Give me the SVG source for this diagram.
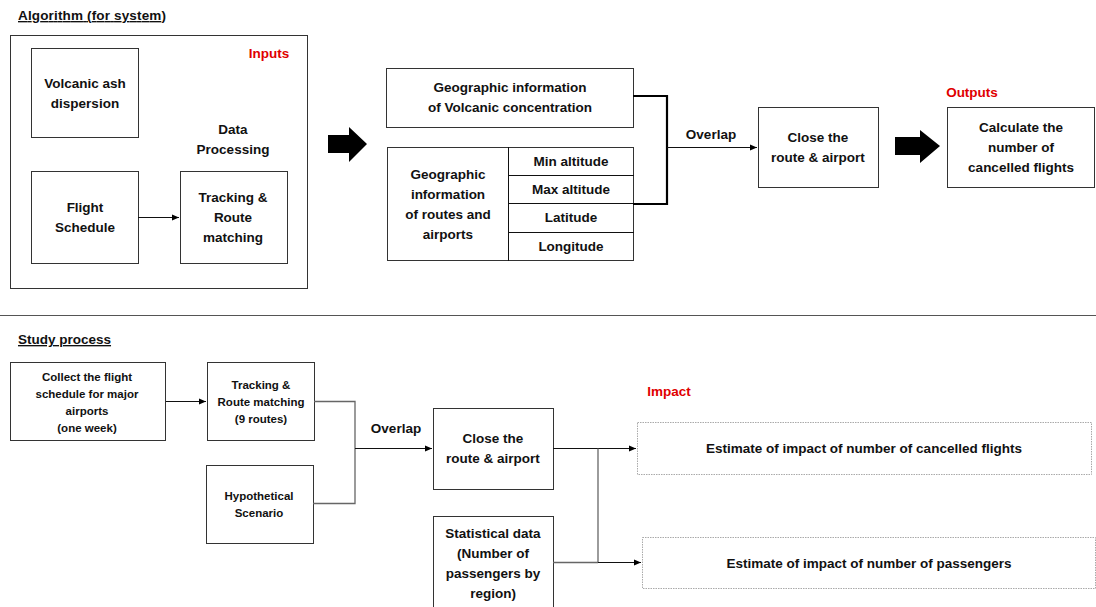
<svg xmlns="http://www.w3.org/2000/svg" width="1096" height="607" viewBox="0 0 1096 607">
<style>
text{font-family:"Liberation Sans",Arial,sans-serif;font-weight:bold;fill:#111;text-anchor:middle}
.t{font-size:13.5px}
.s{font-size:11.5px}
.h{font-size:13.5px;text-anchor:start;text-decoration:underline}
.red{fill:#e00000;font-size:13.5px}
.box{fill:#fff;stroke:#333;stroke-width:1}
.dbox{fill:#fff;stroke:#aaa;stroke-width:1;stroke-dasharray:1.5 1}
.ln{fill:none;stroke:#111;stroke-width:1}
.gl{fill:none;stroke:#666;stroke-width:1.3}
.th{fill:none;stroke:#000;stroke-width:2.2}
</style>
<defs>
<marker id="ah" markerWidth="8" markerHeight="8" refX="7" refY="4" orient="auto" markerUnits="userSpaceOnUse">
<path d="M0,1 L7,4 L0,7 z" fill="#000"/>
</marker>
</defs>
<rect width="1096" height="607" fill="#fff"/>

<text class="h" x="18" y="20" textLength="148">Algorithm (for system)</text>
<g id="inputs-frame">
<rect class="box" x="10.5" y="35.5" width="297" height="253"/>
<text class="red" x="269" y="58">Inputs</text>
</g>
<g id="volcanic">
<rect class="box" x="31.5" y="48.5" width="107" height="89"/>
<text class="t" x="85" y="88">Volcanic ash</text>
<text class="t" x="85" y="108">dispersion</text>
</g>
<g id="flight">
<rect class="box" x="31.5" y="171.5" width="107" height="92"/>
<text class="t" x="85" y="212">Flight</text>
<text class="t" x="85" y="232">Schedule</text>
</g>
<g id="dataproc-label">
<text class="t" x="233" y="134">Data</text>
<text class="t" x="233" y="154">Processing</text>
</g>
<g id="tracking">
<rect class="box" x="180.5" y="171.5" width="107" height="92"/>
<text class="t" x="233" y="202">Tracking &amp;</text>
<text class="t" x="233" y="222">Route</text>
<text class="t" x="233" y="242">matching</text>
</g>
<g id="bigarrow1">
<path d="M328,135 L349,135 L349,127 L367,144 L349,162 L349,153 L328,153 z" fill="#000"/>
</g>
<g id="geo-volc">
<rect class="box" x="386.5" y="68.5" width="247" height="59"/>
<text class="t" x="510" y="92">Geographic information</text>
<text class="t" x="510" y="112">of Volcanic concentration</text>
</g>
<g id="geo-routes">
<rect class="box" x="387.5" y="147.5" width="246" height="113"/>
<line class="ln" x1="508.5" y1="147" x2="508.5" y2="261" stroke="#333"/>
<line class="ln" x1="508" y1="175.5" x2="634" y2="175.5" stroke="#333"/>
<line class="ln" x1="508" y1="203.5" x2="634" y2="203.5" stroke="#333"/>
<line class="ln" x1="508" y1="232.5" x2="634" y2="232.5" stroke="#333"/>
<text class="t" x="448" y="179">Geographic</text>
<text class="t" x="448" y="199">information</text>
<text class="t" x="448" y="219">of routes and</text>
<text class="t" x="448" y="239">airports</text>
<text class="t" x="571" y="166">Min altitude</text>
<text class="t" x="571" y="194">Max altitude</text>
<text class="t" x="571" y="222">Latitude</text>
<text class="t" x="571" y="251">Longitude</text>
</g>
<g id="close1">
<rect class="box" x="758.5" y="107.5" width="120" height="80"/>
<text class="t" x="818" y="142">Close the</text>
<text class="t" x="818" y="162">route &amp; airport</text>
</g>
<g id="bigarrow2">
<path d="M895,137 L920,137 L920,130 L940,146 L920,163 L920,155 L895,155 z" fill="#000"/>
</g>
<g id="outputs">
<text class="red" x="972" y="97">Outputs</text>
<rect class="box" x="947.5" y="107.5" width="147" height="80"/>
<text class="t" x="1021" y="132">Calculate the</text>
<text class="t" x="1021" y="152">number of</text>
<text class="t" x="1021" y="172">cancelled flights</text>
</g>
<g id="connectors-top">
<line class="ln" x1="138" y1="217.5" x2="179" y2="217.5" marker-end="url(#ah)"/>
<path class="th" d="M633,96 L667,96 L667,204 L633,204"/>
<line class="ln" x1="667" y1="147.5" x2="757" y2="147.5" stroke-width="1.5" marker-end="url(#ah)"/>
<text class="t" x="711" y="139">Overlap</text>
</g>

<line x1="0" y1="315.5" x2="1096" y2="315.5" stroke="#555" stroke-width="1"/>

<text class="h" x="18" y="344">Study process</text>
<g id="collect">
<rect class="box" x="10.5" y="362.5" width="155" height="78"/>
<text class="s" x="87" y="381">Collect the flight</text>
<text class="s" x="87" y="398">schedule for major</text>
<text class="s" x="87" y="415">airports</text>
<text class="s" x="87" y="432">(one week)</text>
</g>
<g id="tracking2">
<rect class="box" x="207.5" y="362.5" width="107" height="78"/>
<text class="s" x="261" y="389">Tracking &amp;</text>
<text class="s" x="261" y="406">Route matching</text>
<text class="s" x="261" y="423">(9 routes)</text>
</g>
<g id="hypothetical">
<rect class="box" x="206.5" y="465.5" width="107" height="78"/>
<text class="s" x="259" y="500">Hypothetical</text>
<text class="s" x="259" y="517">Scenario</text>
</g>
<g id="close2">
<rect class="box" x="433.5" y="408.5" width="120" height="81"/>
<text class="t" x="493" y="443">Close the</text>
<text class="t" x="493" y="463">route &amp; airport</text>
</g>
<g id="statistical">
<rect class="box" x="433.5" y="516.5" width="120" height="100"/>
<text class="t" x="493" y="538">Statistical data</text>
<text class="t" x="493" y="558">(Number of</text>
<text class="t" x="493" y="578">passengers by</text>
<text class="t" x="493" y="598">region)</text>
</g>
<g id="impact">
<text class="red" x="669" y="396">Impact</text>
<rect class="dbox" x="637.5" y="422.5" width="454" height="52"/>
<text class="t" x="864" y="453">Estimate of impact of number of cancelled flights</text>
<rect class="dbox" x="642.5" y="537.5" width="453" height="51"/>
<text class="t" x="869" y="568">Estimate of impact of number of passengers</text>
</g>
<g id="connectors-bottom">
<line class="ln" x1="166" y1="401.5" x2="206" y2="401.5" marker-end="url(#ah)"/>
<path class="gl" d="M314,401.5 L355,401.5 L355,503.5 L313,503.5"/>
<line class="ln" x1="355" y1="448.5" x2="432" y2="448.5" stroke-width="1.3" marker-end="url(#ah)"/>
<text class="t" x="396" y="433">Overlap</text>
<line class="ln" x1="553" y1="448.5" x2="636" y2="448.5" stroke-width="1.2" marker-end="url(#ah)"/>
<line class="gl" x1="598" y1="448.5" x2="598" y2="563"/>
<line class="gl" x1="553" y1="562.5" x2="598" y2="562.5"/>
<line class="ln" x1="598" y1="562.5" x2="641" y2="562.5" stroke-width="1.3" marker-end="url(#ah)"/>
</g>
</svg>
